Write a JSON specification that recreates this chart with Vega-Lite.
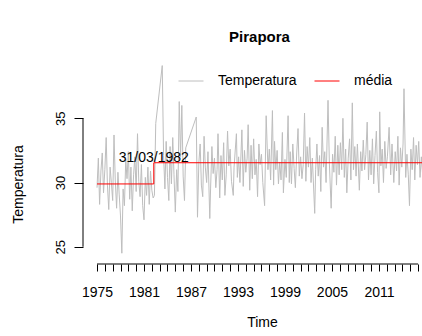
{
 "$schema": "https://vega.github.io/schema/vega-lite/v6.json",
 "width": 339, "height": 207,
 "autosize": {"type": "none"},
 "padding": {"left": 83, "top": 57, "right": 0, "bottom": 72},
 "background": "white",
 "config": {"view": {"stroke": null}, "font": "Liberation Sans"},
 "title": {"text": "Pirapora", "fontSize": 15, "fontWeight": "bold", "font": "Liberation Sans", "color": "black", "anchor": "middle", "dx": 7, "offset": 0, "baseline": "alphabetic"},
 "datasets": {
  "temp": [
   {"t":1975.00,"v":29.6},{"t":1975.17,"v":31.9},{"t":1975.33,"v":28.3},{"t":1975.50,"v":30.9},{"t":1975.67,"v":32.3},{"t":1975.83,"v":29.2},
   {"t":1976.00,"v":31.0},{"t":1976.17,"v":33.5},{"t":1976.33,"v":29.8},{"t":1976.50,"v":27.9},{"t":1976.67,"v":31.2},{"t":1976.83,"v":30.0},
   {"t":1977.00,"v":28.6},{"t":1977.17,"v":33.7},{"t":1977.33,"v":30.2},{"t":1977.50,"v":28.0},{"t":1977.67,"v":30.8},{"t":1977.83,"v":29.1},
   {"t":1978.00,"v":27.4},{"t":1978.17,"v":24.5},{"t":1978.33,"v":29.5},{"t":1978.50,"v":28.2},{"t":1978.67,"v":31.8},{"t":1978.83,"v":30.3},
   {"t":1979.00,"v":32.4},{"t":1979.17,"v":28.7},{"t":1979.33,"v":31.2},{"t":1979.50,"v":27.8},{"t":1979.67,"v":30.6},{"t":1979.83,"v":32.0},
   {"t":1980.00,"v":29.3},{"t":1980.17,"v":33.8},{"t":1980.33,"v":30.1},{"t":1980.50,"v":28.9},{"t":1980.67,"v":31.4},{"t":1980.83,"v":28.2},
   {"t":1981.00,"v":27.1},{"t":1981.17,"v":30.4},{"t":1981.33,"v":29.0},{"t":1981.50,"v":31.2},{"t":1981.67,"v":28.3},{"t":1981.83,"v":30.9},
   {"t":1982.00,"v":29.4},{"t":1982.17,"v":28.8},{"t":1982.33,"v":29.0},{"t":1982.50,"v":34.6},
   {"t":1983.33,"v":39.1},{"t":1983.50,"v":32.1},{"t":1983.67,"v":29.5},{"t":1983.83,"v":33.2},
   {"t":1984.00,"v":30.4},{"t":1984.17,"v":28.6},{"t":1984.33,"v":32.8},{"t":1984.50,"v":29.9},{"t":1984.67,"v":33.5},{"t":1984.83,"v":30.6},
   {"t":1985.00,"v":27.7},{"t":1985.17,"v":31.0},{"t":1985.33,"v":29.3},{"t":1985.50,"v":36.3},{"t":1985.67,"v":32.0},{"t":1985.83,"v":36.0},
   {"t":1986.00,"v":30.5},{"t":1986.17,"v":28.6},{"t":1986.33,"v":32.7},
   {"t":1987.67,"v":35.1},{"t":1987.83,"v":27.3},
   {"t":1988.00,"v":31.5},{"t":1988.17,"v":33.0},{"t":1988.33,"v":29.8},{"t":1988.50,"v":28.9},{"t":1988.67,"v":33.6},{"t":1988.83,"v":31.2},
   {"t":1989.00,"v":30.0},{"t":1989.17,"v":32.4},{"t":1989.40,"v":27.2},{"t":1989.50,"v":29.5},{"t":1989.67,"v":32.8},{"t":1989.83,"v":30.7},
   {"t":1990.00,"v":31.9},{"t":1990.17,"v":29.6},{"t":1990.33,"v":31.0},{"t":1990.45,"v":33.8},{"t":1990.67,"v":28.8},{"t":1990.83,"v":32.1},
   {"t":1991.00,"v":30.2},{"t":1991.17,"v":33.1},{"t":1991.33,"v":29.0},{"t":1991.50,"v":30.6},{"t":1991.67,"v":34.0},{"t":1991.83,"v":31.3},
   {"t":1992.00,"v":32.6},{"t":1992.17,"v":30.1},{"t":1992.40,"v":29.0},{"t":1992.50,"v":31.2},{"t":1992.80,"v":33.8},{"t":1992.92,"v":30.4},
   {"t":1993.08,"v":32.0},{"t":1993.25,"v":30.0},{"t":1993.50,"v":34.1},{"t":1993.67,"v":29.7},{"t":1993.83,"v":32.5},
   {"t":1994.00,"v":30.8},{"t":1994.17,"v":31.9},{"t":1994.30,"v":34.5},{"t":1994.50,"v":29.4},{"t":1994.67,"v":32.9},{"t":1994.83,"v":30.3},
   {"t":1995.00,"v":33.4},{"t":1995.17,"v":30.6},{"t":1995.33,"v":31.8},{"t":1995.50,"v":28.9},{"t":1995.67,"v":33.0},{"t":1995.83,"v":31.4},
   {"t":1996.00,"v":32.2},{"t":1996.17,"v":30.0},{"t":1996.40,"v":28.2},{"t":1996.60,"v":35.2},{"t":1996.83,"v":31.0},
   {"t":1997.00,"v":32.6},{"t":1997.17,"v":30.2},{"t":1997.40,"v":35.6},{"t":1997.55,"v":29.8},{"t":1997.67,"v":33.2},{"t":1997.83,"v":31.0},
   {"t":1998.00,"v":32.5},{"t":1998.17,"v":29.9},{"t":1998.33,"v":31.6},{"t":1998.50,"v":30.2},{"t":1998.67,"v":33.9},{"t":1998.80,"v":29.2},
   {"t":1999.00,"v":31.8},{"t":1999.17,"v":30.4},{"t":1999.40,"v":35.2},{"t":1999.55,"v":30.0},{"t":1999.67,"v":32.4},{"t":1999.83,"v":29.9},
   {"t":2000.00,"v":33.0},{"t":2000.17,"v":31.1},{"t":2000.33,"v":29.6},{"t":2000.50,"v":32.3},{"t":2000.67,"v":34.2},{"t":2000.83,"v":30.5},
   {"t":2001.00,"v":32.0},{"t":2001.17,"v":30.3},{"t":2001.33,"v":31.4},{"t":2001.50,"v":35.4},{"t":2001.67,"v":30.1},{"t":2001.83,"v":32.8},
   {"t":2002.00,"v":31.2},{"t":2002.17,"v":33.5},{"t":2002.33,"v":30.0},{"t":2002.50,"v":31.9},{"t":2002.80,"v":27.6},{"t":2002.92,"v":31.0},
   {"t":2003.08,"v":33.0},{"t":2003.25,"v":30.5},{"t":2003.42,"v":32.1},{"t":2003.58,"v":29.3},{"t":2003.75,"v":34.3},{"t":2003.92,"v":31.2},
   {"t":2004.08,"v":32.4},{"t":2004.25,"v":30.0},{"t":2004.50,"v":36.4},{"t":2004.67,"v":31.5},{"t":2004.90,"v":28.0},
   {"t":2005.08,"v":32.2},{"t":2005.25,"v":30.8},{"t":2005.42,"v":33.6},{"t":2005.58,"v":29.8},{"t":2005.75,"v":32.9},{"t":2005.92,"v":30.6},
   {"t":2006.08,"v":33.1},{"t":2006.25,"v":31.0},{"t":2006.40,"v":35.0},{"t":2006.58,"v":30.4},{"t":2006.75,"v":32.6},{"t":2006.90,"v":29.2},
   {"t":2007.08,"v":31.9},{"t":2007.25,"v":33.4},{"t":2007.42,"v":30.2},{"t":2007.60,"v":36.2},{"t":2007.75,"v":31.0},{"t":2007.92,"v":32.8},
   {"t":2008.08,"v":30.5},{"t":2008.25,"v":33.0},{"t":2008.50,"v":29.4},{"t":2008.67,"v":32.4},{"t":2008.83,"v":30.9},
   {"t":2009.00,"v":33.3},{"t":2009.17,"v":31.0},{"t":2009.33,"v":32.2},{"t":2009.50,"v":34.7},{"t":2009.67,"v":30.2},{"t":2009.83,"v":32.5},
   {"t":2010.00,"v":30.6},{"t":2010.17,"v":33.4},{"t":2010.33,"v":29.9},{"t":2010.50,"v":32.1},{"t":2010.67,"v":34.0},{"t":2010.83,"v":30.8},
   {"t":2011.00,"v":29.2},{"t":2011.10,"v":35.5},{"t":2011.25,"v":31.3},{"t":2011.42,"v":32.6},{"t":2011.58,"v":30.0},{"t":2011.75,"v":33.2},{"t":2011.92,"v":31.1},
   {"t":2012.08,"v":32.0},{"t":2012.30,"v":34.3},{"t":2012.50,"v":30.6},{"t":2012.67,"v":33.0},{"t":2012.90,"v":30.0},
   {"t":2013.08,"v":32.4},{"t":2013.25,"v":30.9},{"t":2013.42,"v":33.6},{"t":2013.58,"v":29.8},{"t":2013.75,"v":32.7},{"t":2013.92,"v":31.2},
   {"t":2014.08,"v":33.0},{"t":2014.20,"v":37.3},{"t":2014.42,"v":30.4},{"t":2014.58,"v":32.2},{"t":2014.75,"v":30.6},{"t":2014.90,"v":28.2},
   {"t":2015.08,"v":32.6},{"t":2015.25,"v":31.0},{"t":2015.42,"v":33.5},{"t":2015.58,"v":30.2},{"t":2015.75,"v":32.9},{"t":2015.92,"v":31.4},
   {"t":2016.08,"v":33.2},{"t":2016.25,"v":30.4},{"t":2016.42,"v":32.0},{"t":2016.58,"v":30.6},{"t":2016.75,"v":33.0}
  ],
  "media": [
   {"i":1,"t":1975.0,"m":29.89},{"i":2,"t":1982.25,"m":29.89},{"i":3,"t":1982.25,"m":31.54},{"i":4,"t":2017.4,"m":31.54}
  ],
  "anno": [{"t":1982.25,"m":31.54,"label":"31/03/1982"}]
 },
 "layer": [
  {
   "data": {"name": "temp"},
   "mark": {"type": "line", "strokeWidth": 1, "clip": true},
   "encoding": {
    "x": {"field": "t", "type": "quantitative", "title": "Time",
     "scale": {"domain": [1973.21, 2016.5], "nice": false, "zero": false},
     "axis": {"title": "Time", "values": [1975,1976,1977,1978,1979,1980,1981,1982,1983,1984,1985,1986,1987,1988,1989,1990,1991,1992,1993,1994,1995,1996,1997,1998,1999,2000,2001,2002,2003,2004,2005,2006,2007,2008,2009,2010,2011,2012,2013,2014,2015,2016],
      "tickCount": 200,
      "format": "d", "labelExpr": "(datum.value-1975)%6==0 ? datum.label : ''",
      "domain": false, "grid": false, "tickSize": 7, "tickColor": "black", "tickWidth": 1,
      "labelPadding": 14, "labelFontSize": 14, "labelColor": "black", "labelFlush": false, "labelOverlap": false, "labelFont": "Liberation Sans",
      "titleFontSize": 14, "titleFontWeight": "normal", "titleColor": "black", "titleFont": "Liberation Sans",
      "titleX": 179, "titleY": 62, "titleBaseline": "alphabetic", "titleAlign": "center", "titleAnchor": null}},
    "y": {"field": "v", "type": "quantitative", "title": "Temperatura",
     "scale": {"domain": [23.66, 39.77], "nice": false, "zero": false},
     "axis": {"title": "Temperatura", "values": [25, 30, 35], "domain": false, "grid": false,
      "tickSize": 9, "tickColor": "black", "tickWidth": 1,
      "labelAngle": -90, "labelAlign": "center", "labelBaseline": "bottom", "labelPadding": 7, "labelFontSize": 13, "labelColor": "black", "labelFont": "Liberation Sans",
      "titleFontSize": 14, "titleFontWeight": "normal", "titleColor": "black", "titleFont": "Liberation Sans",
      "titleX": -65, "titleY": 127, "titleAngle": -90, "titleAlign": "center", "titleBaseline": "middle"}},
    "color": {"datum": "Temperatura",
     "scale": {"domain": ["Temperatura", "média"], "range": ["#BEBEBE", "#FF0000"]},
     "legend": {"orient": "none", "legendX": 95, "legendY": 11, "direction": "horizontal", "title": null,
      "symbolType": "stroke", "symbolSize": 625, "symbolStrokeWidth": 1,
      "labelFontSize": 14, "labelFont": "Liberation Sans", "labelColor": "black",
      "labelOffset": 14, "columnPadding": 15, "padding": 0}}
   }
  },
  {
   "data": {"name": "media"},
   "mark": {"type": "line", "strokeWidth": 1, "clip": true},
   "encoding": {
    "x": {"field": "t", "type": "quantitative", "title": "Time"},
    "y": {"field": "m", "type": "quantitative", "title": "Temperatura"},
    "order": {"field": "i"},
    "color": {"datum": "média"}
   }
  },
  {
   "data": {"name": "anno"},
   "mark": {"type": "text", "fontSize": 14, "font": "Liberation Sans", "color": "black", "align": "center", "baseline": "alphabetic", "dy": -1},
   "encoding": {
    "x": {"field": "t", "type": "quantitative", "title": "Time"},
    "y": {"field": "m", "type": "quantitative", "title": "Temperatura"},
    "text": {"field": "label"}
   }
  },
  {
   "data": {"values": [{}]},
   "mark": {"type": "rule", "color": "black", "strokeWidth": 1},
   "encoding": {"x": {"datum": 1973.21}, "y": {"datum": 25}, "y2": {"datum": 35}}
  },
  {
   "data": {"values": [{}]},
   "mark": {"type": "rule", "color": "black", "strokeWidth": 1},
   "encoding": {"x": {"datum": 1975}, "x2": {"datum": 2016}, "y": {"datum": 23.66}}
  }
 ]
}
